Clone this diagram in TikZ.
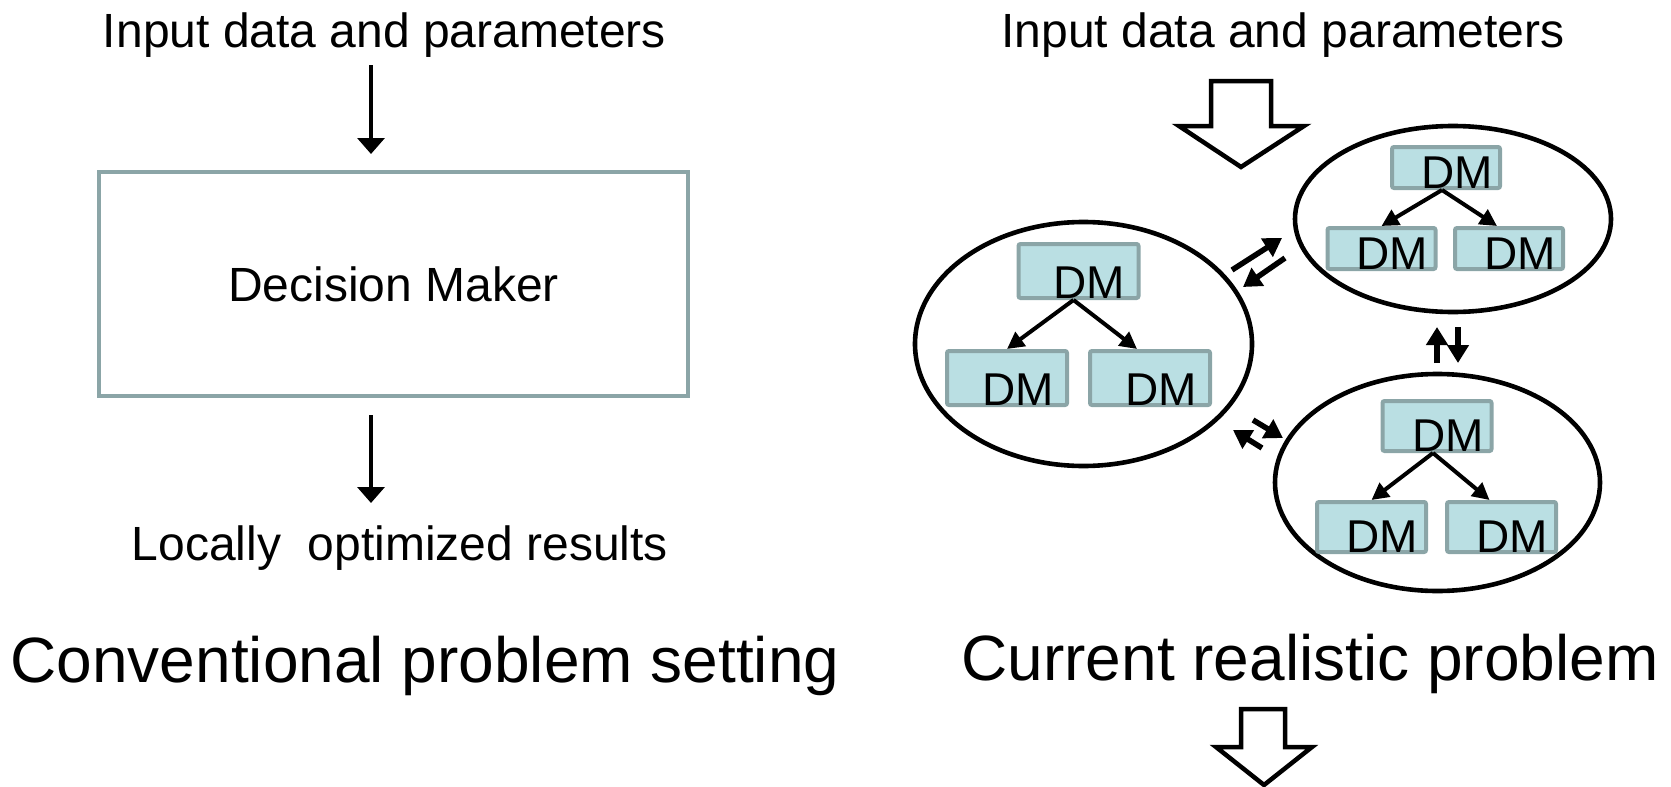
\documentclass[tikz,border=0pt]{standalone}
\usepackage{fontspec}
\setmainfont{Liberation Sans}
\usetikzlibrary{arrows.meta,shapes.geometric,calc}
\definecolor{dmfill}{HTML}{BADFE3}
\definecolor{dmline}{HTML}{8BA5A7}
\begin{document}
\begin{tikzpicture}[x=0.5pt,y=-0.5pt,
  lbl/.style={font=\fontsize{24}{28}\selectfont, inner sep=0pt, anchor=base},
  ttl/.style={font=\fontsize{32}{38}\selectfont, inner sep=0pt, anchor=base},
  bigarr/.style={-{Triangle[width=13.5pt,length=8pt]}, line width=1.75pt},
  tarr/.style={-{Triangle[width=8.5pt,length=8.5pt]}, line width=2pt},
  xarr/.style={-{Triangle[width=10.5pt,length=9pt]}, line width=2.75pt},
  grp/.style={ellipse, draw, line width=2.3pt, inner sep=0pt},
  dmlab/.style={anchor=base, xshift=5.5pt, yshift=1pt, inner sep=0pt, font=\fontsize{23}{27}\selectfont},
  dmbox/.style={draw=dmline, fill=dmfill, line width=2pt, inner sep=0pt, rounded corners=1pt, label={[dmlab]south:DM}},
  dmTR/.style={dmbox, minimum width=54pt, minimum height=20.5pt},
  dmL/.style={dmbox, minimum width=60pt, minimum height=27pt},
  dmBR/.style={dmbox, minimum width=54.5pt, minimum height=25pt},
  blk/.style={draw, line width=2.25pt, fill=white, line join=miter},
  mainbox/.style={draw=dmline, line width=2pt, inner sep=0pt, minimum width=294.5pt, minimum height=112pt, font=\fontsize{24}{28}\selectfont}
]
\useasboundingbox (0,0) rectangle (1671,787);

% ---------- left: conventional setting ----------
\node[lbl] (inL) at (384.5,47) {Input data and parameters};
\node[mainbox] (dmk) at (393.5,284) {Decision Maker};
\node[lbl] (loc) at (400,560) {Locally\ \ optimized results};
\node[ttl] (conv) at (425,682) {Conventional problem setting};
\coordinate (t1) at (371,65);
\coordinate (b1) at (371,503);
\draw[bigarr, shorten >=8pt] (t1) -- (t1 |- dmk.north);
\draw[bigarr, shorten <=8.5pt] (b1 |- dmk.south) -- (b1);

% ---------- right: current realistic problem ----------
\node[lbl] (inR) at (1283,47) {Input data and parameters};
\draw[blk] (1211,81) -- (1271,81) -- (1271,126) -- (1304,126) -- (1241,167)
  -- (1179,126) -- (1211,126) -- cycle;

% groups
\node[grp, minimum width=158pt, minimum height=93pt] (gTR) at (1453,219) {};
\node[grp, minimum width=168.5pt, minimum height=122pt] (gL) at (1083.5,344) {};
\node[grp, minimum width=162.5pt, minimum height=108.5pt] (gBR) at (1437.5,482.5) {};

% top-right tree
\node[dmTR] (trP) at (1446,167.5) {};
\node[dmTR] (trA) at (1381.5,248.5) {};
\node[dmTR] (trB) at (1509,248.5) {};
\draw[tarr] ([xshift=-2pt]trP.south) -- (trA.north);
\draw[tarr] ([xshift=-2pt]trP.south) -- ([xshift=-6pt]trB.north);

% left tree
\node[dmL] (lP) at (1078.5,271) {};
\node[dmL] (lA) at (1007,378) {};
\node[dmL] (lB) at (1150,378) {};
\draw[tarr] ([xshift=-2.5pt]lP.south) -- (lA.north);
\draw[tarr] ([xshift=-2.5pt]lP.south) -- ([xshift=-6.5pt]lB.north);

% bottom-right tree
\node[dmBR] (brP) at (1437,426) {};
\node[dmBR] (brA) at (1371.5,527) {};
\node[dmBR] (brB) at (1501.5,527) {};
\draw[tarr] ([xshift=-2pt]brP.south) -- (brA.north);
\draw[tarr] ([xshift=-2pt]brP.south) -- ([xshift=-6pt]brB.north);

% exchanges between groups
\coordinate (x1s) at (1232,270); \coordinate (x1e) at (1282,238);
\coordinate (x2s) at (1285,258); \coordinate (x2e) at (1243,287);
\coordinate (x3s) at (1437,363); \coordinate (x3e) at (1437,327);
\coordinate (x4s) at (1458,327); \coordinate (x4e) at (1458,363);
\coordinate (x5s) at (1253,420); \coordinate (x5e) at (1283,438);
\coordinate (x6s) at (1262,448); \coordinate (x6e) at (1233,430);
\draw[xarr] (x1s) -- (x1e);
\draw[xarr] (x2s) -- (x2e);
\draw[xarr] (x3s) -- (x3e);
\draw[xarr] (x4s) -- (x4e);
\draw[xarr] (x5s) -- (x5e);
\draw[xarr] (x6s) -- (x6e);

\node[ttl] (curr) at (1310,680) {Current realistic problem};
\draw[blk] (1241,709) -- (1285,709) -- (1285,747) -- (1312,747) -- (1264,785)
  -- (1216,747) -- (1241,747) -- cycle;
\end{tikzpicture}
\end{document}
